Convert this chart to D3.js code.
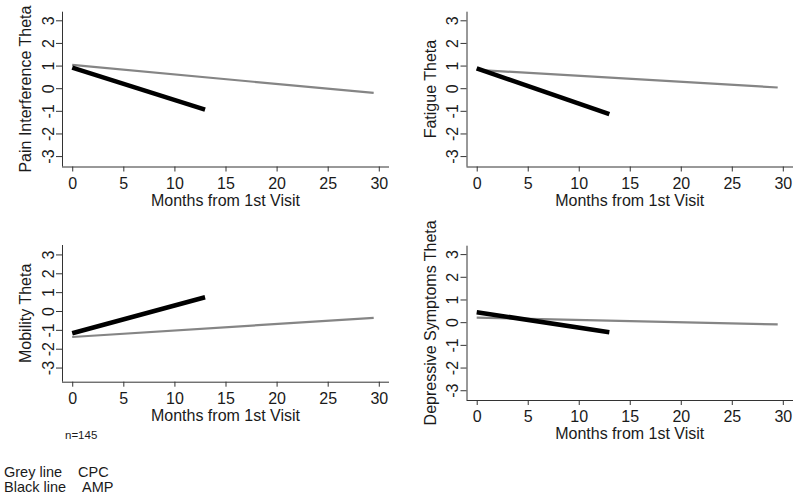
<!DOCTYPE html>
<html>
<head>
<meta charset="utf-8">
<script src="https://cdn.jsdelivr.net/npm/d3@7/dist/d3.min.js"></script>
<style>
  html, body { margin: 0; padding: 0; background: #fff; }
  svg { display: block; }
  text { font-family: "Liberation Sans", Arial, sans-serif; fill: #1a1a1a; }
</style>
</head>
<body>
<svg id="chart" width="800" height="496"></svg>
<script>
// ---------- data ----------
const panelTitles = ["Pain Interference Theta", "Fatigue Theta", "Mobility Theta", "Depressive Symptoms Theta"];
const xTitle = "Months from 1st Visit";
const xTicks = [0, 5, 10, 15, 20, 25, 30];
const yTicks = [-3, -2, -1, 0, 1, 2, 3];
const cpcMonths = [0, 29.5];   // grey line
const ampMonths = [0, 13];     // black line
const painCPC = [1.03, -0.21];
const painAMP = [0.91, -0.95];
const fatigueCPC = [0.81, 0.03];
const fatigueAMP = [0.88, -1.15];
const mobilityCPC = [-1.38, -0.36];
const mobilityAMP = [-1.18, 0.73];
const depressCPC = [0.20, -0.10];
const depressAMP = [0.44, -0.44];
const noteText = "n=145";
const legendLabels = [["Grey line", "CPC"], ["Black line", "AMP"]];

// ---------- layout ----------
const panels = [
  { title: panelTitles[0], cpc: painCPC, amp: painAMP,
    xr: [62, 389], yd: [-3.46, 3.38], yr: [166.5, 11.7] },
  { title: panelTitles[1], cpc: fatigueCPC, amp: fatigueAMP,
    xr: [466.5, 793], yd: [-3.46, 3.38], yr: [166.5, 11.7] },
  { title: panelTitles[2], cpc: mobilityCPC, amp: mobilityAMP,
    xr: [62, 389], yd: [-3.75, 3.5], yr: [381.7, 245] },
  { title: panelTitles[3], cpc: depressCPC, amp: depressAMP,
    xr: [466.5, 793], yd: [-3.43, 3.37], yr: [400, 245.7] }
];

const svg = d3.select("#chart");
const axisColor = "#333";

panels.forEach(p => {
  const x = d3.scaleLinear().domain([-1, 31]).range(p.xr);
  const y = d3.scaleLinear().domain(p.yd).range(p.yr);
  const g = svg.append("g");
  const x0 = p.xr[0], yb = p.yr[0];

  // y axis
  const ya = g.append("g").attr("transform", `translate(${x0},0)`)
    .call(d3.axisLeft(y).tickValues(yTicks).tickSize(6).tickFormat(d3.format("d")));
  ya.select(".domain").attr("d", `M0.5,${p.yr[1]}V${yb}`).attr("stroke", axisColor);
  ya.selectAll(".tick line").attr("stroke", axisColor);
  ya.selectAll(".tick text")
    .attr("x", null).attr("dy", null)
    .attr("transform", "translate(-8.5,0) rotate(-90)")
    .attr("text-anchor", "middle")
    .attr("font-size", 16)
    .attr("fill", "#1a1a1a")
    .text(d => d < 0 ? "-" + Math.abs(d) : String(d));

  // x axis
  const xa = g.append("g").attr("transform", `translate(0,${yb})`)
    .call(d3.axisBottom(x).tickValues(xTicks).tickSize(5).tickFormat(d3.format("d")));
  xa.select(".domain").attr("d", `M${p.xr[0]},0.5H${p.xr[1]}`).attr("stroke", axisColor);
  xa.selectAll(".tick line").attr("stroke", axisColor);
  xa.selectAll(".tick text")
    .attr("y", 22).attr("dy", null)
    .attr("font-size", 16)
    .attr("fill", "#1a1a1a");

  // x title
  g.append("text")
    .attr("x", (x(0) + x(30)) / 2)
    .attr("y", yb + 39)
    .attr("text-anchor", "middle")
    .attr("font-size", 16)
    .text(xTitle);

  // y title
  const yc = (p.yr[0] + p.yr[1]) / 2;
  g.append("text")
    .attr("transform", `translate(${x0 - 31},${yc}) rotate(-90)`)
    .attr("text-anchor", "middle")
    .attr("font-size", 16)
    .text(p.title);

  const line = d3.line().x(d => x(d[0])).y(d => y(d[1]));
  g.append("path")
    .datum(cpcMonths.map((m, i) => [m, p.cpc[i]]))
    .attr("d", line).attr("fill", "none")
    .attr("stroke", "#858585").attr("stroke-width", 2.2);
  g.append("path")
    .datum(ampMonths.map((m, i) => [m, p.amp[i]]))
    .attr("d", line).attr("fill", "none")
    .attr("stroke", "#000").attr("stroke-width", 4.5);
});

svg.selectAll(".domain, .tick line").attr("stroke-width", 1);

// note
svg.append("text").attr("x", 65).attr("y", 439).attr("font-size", 11.5).text(noteText);

// legend
const lx = [[4, 78], [4, 82]];
const ly = [476.5, 491.5];
legendLabels.forEach((pair, i) => {
  svg.append("text").attr("x", lx[i][0]).attr("y", ly[i]).attr("font-size", 14.5).text(pair[0]);
  svg.append("text").attr("x", lx[i][1]).attr("y", ly[i]).attr("font-size", 14.5).text(pair[1]);
});
</script>
</body>
</html>
